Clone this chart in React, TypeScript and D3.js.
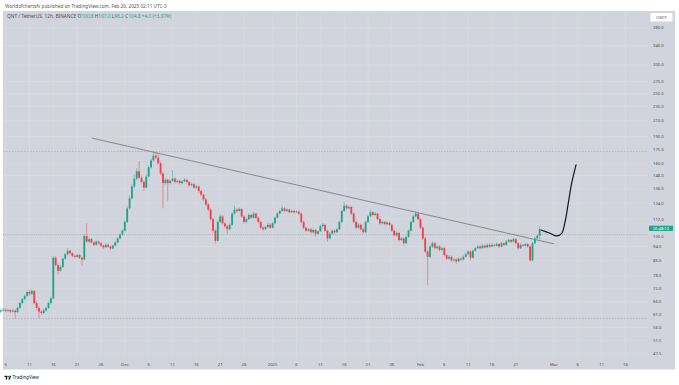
import React, { useEffect, useRef } from 'react';
import * as d3 from 'd3';

const WIDTH = 679;
const HEIGHT = 385;

// 12h candles, the first one opens 2024-11-05 00:00 UTC
const firstCandle = '2024-11-05T00:00:00Z';
const candleHours = 12;

// [open, high, low, close]
const candles: number[][] = [
  [62.0, 63.2, 61.4, 62.5], [62.5, 63.4, 62.0, 62.8], [62.8, 63.3, 61.7, 62.3], [62.3, 63.1, 61.9, 62.6],
  [62.6, 63.0, 61.3, 62.0], [62.0, 62.9, 61.6, 62.4], [62.4, 62.8, 59.3, 61.8], [61.8, 64.0, 61.5, 63.5],
  [63.5, 66.0, 63.0, 65.5], [65.5, 67.8, 65.0, 67.2], [67.2, 69.2, 66.6, 68.5], [68.5, 71.0, 68.0, 70.3],
  [70.3, 71.2, 68.8, 69.5], [69.5, 71.4, 69.0, 70.8], [70.8, 71.0, 65.0, 65.5], [65.5, 66.4, 62.8, 63.5],
  [63.5, 64.2, 59.5, 62.0], [62.0, 62.8, 60.8, 61.5], [61.5, 63.1, 61.0, 62.5], [62.5, 64.0, 62.0, 63.5],
  [63.5, 66.2, 63.0, 65.5], [65.5, 68.2, 65.0, 67.5], [67.5, 88.6, 67.0, 87.5], [87.5, 88.4, 82.8, 83.5],
  [83.5, 84.6, 78.6, 80.5], [80.5, 83.4, 79.8, 82.5], [82.5, 87.6, 82.0, 87.0], [87.0, 90.2, 86.4, 89.5],
  [89.5, 93.0, 88.8, 91.5], [91.5, 92.2, 89.2, 90.0], [90.0, 90.8, 87.8, 88.5], [88.5, 89.4, 87.2, 88.0],
  [88.0, 89.8, 87.5, 89.0], [89.0, 89.6, 86.8, 87.5], [87.5, 88.2, 83.2, 86.5], [86.5, 101.5, 86.0, 100.5],
  [100.5, 109.0, 96.4, 97.0], [97.0, 99.5, 96.2, 98.5], [98.5, 99.2, 95.8, 96.5], [96.5, 97.2, 94.2, 95.0],
  [95.0, 97.8, 94.6, 97.0], [97.0, 97.6, 95.3, 96.0], [96.0, 96.6, 93.8, 94.5], [94.5, 95.2, 92.6, 93.5],
  [93.5, 95.8, 93.0, 95.0], [95.0, 95.6, 93.3, 94.0], [94.0, 94.6, 91.8, 92.8], [92.8, 95.2, 92.3, 94.5],
  [94.5, 97.2, 94.0, 96.5], [96.5, 99.8, 96.0, 99.0], [99.0, 102.3, 98.4, 101.5], [101.5, 105.0, 100.8, 104.0],
  [104.0, 111.2, 103.4, 110.0], [110.0, 121.5, 109.2, 120.0], [120.0, 130.0, 119.0, 128.0], [128.0, 140.0, 126.8, 138.0],
  [138.0, 149.0, 136.5, 145.0], [145.0, 155.0, 143.5, 152.0], [152.0, 162.0, 144.8, 146.0], [146.0, 148.0, 140.6, 142.0],
  [142.0, 143.4, 134.0, 137.0], [137.0, 148.5, 136.2, 147.0], [147.0, 158.0, 146.0, 156.0], [156.0, 164.8, 155.0, 163.0],
  [163.0, 171.0, 161.8, 168.0], [168.0, 172.5, 164.5, 166.0], [166.0, 171.0, 158.5, 160.0], [160.0, 161.5, 148.5, 150.0],
  [150.0, 151.5, 120.0, 141.0], [141.0, 145.5, 139.5, 144.0], [144.0, 145.2, 126.0, 141.0], [141.0, 144.5, 139.8, 143.0],
  [143.0, 153.0, 141.8, 145.0], [145.0, 146.2, 140.6, 142.0], [142.0, 144.6, 141.0, 143.0], [143.0, 144.0, 139.8, 141.0],
  [141.0, 143.8, 140.2, 142.5], [142.5, 145.6, 141.8, 144.0], [144.0, 145.0, 140.8, 142.0], [142.0, 143.0, 137.8, 139.0],
  [139.0, 141.5, 138.2, 140.0], [140.0, 140.8, 135.8, 137.0], [137.0, 139.4, 136.0, 138.0], [138.0, 138.8, 132.6, 134.0],
  [134.0, 135.0, 129.8, 131.0], [131.0, 132.0, 125.8, 127.0], [127.0, 128.2, 121.8, 123.0], [123.0, 124.0, 117.6, 119.0],
  [119.0, 120.0, 110.8, 112.0], [112.0, 113.0, 102.8, 104.0], [104.0, 105.0, 95.8, 97.5], [97.5, 111.5, 97.0, 110.0],
  [110.0, 115.5, 109.2, 114.0], [114.0, 114.8, 108.0, 109.0], [109.0, 110.0, 106.0, 107.0], [107.0, 108.0, 102.0, 105.0],
  [105.0, 109.0, 104.2, 108.0], [108.0, 117.2, 107.4, 116.0], [116.0, 122.0, 115.2, 119.0], [119.0, 120.2, 116.8, 118.0],
  [118.0, 120.8, 117.2, 119.5], [119.5, 120.2, 113.0, 114.0], [114.0, 114.8, 108.8, 110.0], [110.0, 113.2, 109.2, 112.0],
  [112.0, 116.2, 111.4, 115.0], [115.0, 115.8, 112.2, 113.0], [113.0, 117.2, 112.4, 116.0], [116.0, 116.8, 112.0, 113.0],
  [113.0, 113.8, 109.0, 110.0], [110.0, 110.8, 105.2, 106.0], [106.0, 107.0, 103.8, 105.0], [105.0, 107.4, 104.4, 106.5],
  [106.5, 109.2, 105.8, 108.0], [108.0, 108.8, 105.2, 106.0], [106.0, 110.0, 105.4, 109.0], [109.0, 114.0, 108.4, 113.0],
  [113.0, 117.0, 112.4, 116.0], [116.0, 119.2, 115.4, 118.0], [118.0, 122.0, 117.2, 120.0], [120.0, 121.0, 117.0, 118.0],
  [118.0, 120.2, 117.2, 119.0], [119.0, 119.8, 116.2, 117.0], [117.0, 119.0, 116.4, 118.0], [118.0, 118.8, 116.0, 117.0],
  [117.0, 118.6, 116.4, 117.5], [117.5, 118.2, 115.0, 116.0], [116.0, 116.8, 109.0, 110.0], [110.0, 111.0, 105.0, 106.0],
  [106.0, 107.0, 103.0, 104.0], [104.0, 106.0, 103.4, 105.0], [105.0, 105.8, 102.2, 103.0], [103.0, 105.4, 102.4, 104.5],
  [104.5, 105.2, 100.0, 102.0], [102.0, 104.4, 101.4, 103.5], [103.5, 108.0, 103.0, 107.0], [107.0, 109.2, 106.2, 108.0],
  [108.0, 108.8, 103.2, 104.0], [104.0, 104.8, 97.0, 99.0], [99.0, 103.0, 98.4, 102.0], [102.0, 105.0, 101.4, 104.0],
  [104.0, 104.8, 102.2, 103.0], [103.0, 106.0, 102.4, 105.0], [105.0, 111.0, 104.4, 110.0], [110.0, 119.0, 109.4, 118.0],
  [118.0, 125.0, 117.2, 122.0], [122.0, 123.0, 119.0, 120.0], [120.0, 122.4, 119.2, 121.0], [121.0, 121.8, 115.0, 116.0],
  [116.0, 117.0, 109.0, 110.0], [110.0, 111.0, 105.2, 106.0], [106.0, 109.0, 105.4, 108.0], [108.0, 108.8, 104.2, 105.0],
  [105.0, 106.0, 102.0, 103.0], [103.0, 111.0, 102.4, 110.0], [110.0, 115.0, 109.2, 114.0], [114.0, 119.0, 113.2, 117.0],
  [117.0, 117.8, 114.0, 115.0], [115.0, 117.2, 114.2, 116.0], [116.0, 116.8, 111.0, 112.0], [112.0, 113.0, 108.2, 109.0],
  [109.0, 111.0, 108.4, 110.0], [110.0, 110.8, 107.6, 108.5], [108.5, 110.6, 107.8, 109.5], [109.5, 110.2, 107.2, 108.0],
  [108.0, 108.8, 103.0, 104.0], [104.0, 105.0, 100.2, 101.0], [101.0, 103.6, 100.2, 102.5], [102.5, 103.2, 97.0, 98.0],
  [98.0, 100.2, 97.2, 99.0], [99.0, 99.8, 95.0, 96.0], [96.0, 101.0, 95.4, 100.0], [100.0, 105.0, 99.4, 104.0],
  [104.0, 111.0, 103.4, 110.0], [110.0, 115.0, 109.2, 114.0], [114.0, 118.0, 113.2, 116.0], [116.0, 117.0, 111.0, 112.0],
  [112.0, 113.0, 105.0, 106.0], [106.0, 107.0, 98.0, 99.0], [99.0, 100.0, 90.0, 91.0], [91.0, 92.0, 73.5, 88.0],
  [88.0, 95.0, 87.2, 94.0], [94.0, 97.2, 93.2, 96.0], [96.0, 96.8, 92.2, 93.0], [93.0, 95.0, 92.4, 94.0],
  [94.0, 94.8, 91.2, 92.0], [92.0, 94.0, 91.4, 93.0], [93.0, 93.8, 88.2, 89.0], [89.0, 89.8, 86.2, 87.0],
  [87.0, 89.0, 86.4, 88.0], [88.0, 88.8, 85.2, 86.0], [86.0, 87.4, 85.4, 86.5], [86.5, 87.2, 84.0, 85.5],
  [85.5, 87.8, 85.0, 87.0], [87.0, 87.8, 85.8, 86.5], [86.5, 88.8, 86.0, 88.0], [88.0, 90.4, 87.4, 89.5],
  [89.5, 92.0, 89.0, 91.0], [91.0, 91.8, 86.0, 87.5], [87.5, 92.2, 87.0, 91.5], [91.5, 93.8, 91.0, 93.0],
  [93.0, 94.8, 92.4, 94.0], [94.0, 94.8, 92.2, 93.0], [93.0, 95.4, 92.6, 94.5], [94.5, 95.2, 92.8, 93.5],
  [93.5, 95.8, 93.0, 95.0], [95.0, 95.8, 93.2, 94.0], [94.0, 95.8, 93.6, 95.0], [95.0, 95.6, 93.8, 94.5],
  [94.5, 96.4, 94.0, 95.5], [95.5, 96.0, 93.2, 94.0], [94.0, 96.8, 93.6, 96.0], [96.0, 96.6, 94.2, 95.0],
  [95.0, 97.8, 94.6, 97.0], [97.0, 98.8, 96.4, 98.0], [98.0, 98.6, 96.2, 97.0], [97.0, 99.4, 96.6, 98.5],
  [98.5, 99.0, 95.2, 96.0], [96.0, 96.6, 92.0, 93.0], [93.0, 95.8, 92.6, 95.0], [95.0, 95.6, 93.8, 94.5],
  [94.5, 96.4, 94.0, 95.5], [95.5, 96.0, 93.2, 94.0], [94.0, 94.6, 85.5, 86.0], [86.0, 97.0, 85.6, 96.0],
  [96.0, 100.0, 95.4, 99.0], [99.0, 101.5, 98.4, 100.8], [100.8, 107.0, 98.2, 104.8],
];

const priceTicks = [380, 340, 300, 270, 250, 230, 210, 190, 175, 160, 148, 136, 124, 112, 100, 94, 86, 78, 72, 66, 61, 56, 51.5, 47.5];

const dateTicks: [string, string][] = [
  ['2024-11-06', '6'], ['2024-11-11', '11'], ['2024-11-16', '16'], ['2024-11-21', '21'], ['2024-11-26', '26'],
  ['2024-12-01', 'Dec'], ['2024-12-06', '6'], ['2024-12-11', '11'], ['2024-12-16', '16'], ['2024-12-21', '21'],
  ['2024-12-26', '26'], ['2025-01-01', '2025'], ['2025-01-06', '6'], ['2025-01-11', '11'], ['2025-01-16', '16'],
  ['2025-01-21', '21'], ['2025-01-26', '26'], ['2025-02-01', 'Feb'], ['2025-02-06', '6'], ['2025-02-11', '11'],
  ['2025-02-16', '16'], ['2025-02-21', '21'], ['2025-03-01', 'Mar'], ['2025-03-06', '6'], ['2025-03-11', '11'],
  ['2025-03-16', '16'],
];

// drawn objects
const trendLine: [string, number][] = [['2024-11-24T03:00:00Z', 188], ['2025-03-01T00:00:00Z', 95.6]];
const projection: [string, number][] = [
  ['2025-02-26T07:00:00Z', 104.5], ['2025-02-28T04:00:00Z', 102.3], ['2025-03-01T14:00:00Z', 100.6],
  ['2025-03-02T15:00:00Z', 102.3], ['2025-03-03T08:00:00Z', 110.2], ['2025-03-04T00:00:00Z', 124.0],
  ['2025-03-04T17:00:00Z', 140.9], ['2025-03-05T15:00:00Z', 158.4],
];
const rangeLevels = [172.5, 59.3];
const refLevel = 101.4;

const GREEN = '#1fa38a';
const RED = '#ef3f4c';
const BG = '#d1d4dc';
const GRID = '#d9dbe2';
const TEXT = '#4a4d55';
const FONT = '"Noto Sans", "Liberation Sans", sans-serif';

const App = () => {
  const svgRef = useRef(null);

  useEffect(() => {
    const svg = d3.select(svgRef.current);
    svg.selectAll('*').remove();

    const x = d3.scaleUtc()
      .domain([new Date('2024-11-06T00:00:00Z'), new Date('2025-03-16T00:00:00Z')])
      .range([5.6, 625.5]);
    const y = d3.scaleLog().domain([47.5, 380]).range([353.3, 28]);

    const plot = { left: 3, right: 648, top: 11, bottom: 358 };

    svg.append('rect').attr('width', WIDTH).attr('height', HEIGHT).attr('fill', '#ffffff');
    svg.append('rect')
      .attr('x', 3).attr('y', 11).attr('width', 672).attr('height', 358.5)
      .attr('fill', BG);

    // grid
    const grid = svg.append('g');
    grid.selectAll('line.v').data(dateTicks).join('line')
      .attr('x1', d => x(new Date(d[0]))).attr('x2', d => x(new Date(d[0])))
      .attr('y1', plot.top).attr('y2', plot.bottom)
      .attr('stroke', GRID).attr('stroke-width', 0.6);
    grid.selectAll('line.h').data(priceTicks).join('line')
      .attr('x1', plot.left).attr('x2', plot.right)
      .attr('y1', d => y(d)).attr('y2', d => y(d))
      .attr('stroke', GRID).attr('stroke-width', 0.6);

    // header
    svg.append('text')
      .attr('x', 5).attr('y', 7.5)
      .attr('font-family', FONT).attr('font-size', 4.7).attr('fill', '#555')
      .text('Worldofchartsfx published on TradingView.com, Feb 26, 2025 02:11 UTC-3');

    const last = candles[candles.length - 1];
    const legend = svg.append('text')
      .attr('x', 7).attr('y', 18)
      .attr('font-family', FONT).attr('font-size', 4.8).attr('fill', TEXT);
    legend.append('tspan').text('QNT / TetherUS, 12h, BINANCE  ');
    const ohlc: [string, number][] = [['O', last[0]], ['H', last[1]], ['L', last[2]], ['C', last[3]]];
    ohlc.forEach(([k, v]) => {
      legend.append('tspan').text(k);
      legend.append('tspan').attr('fill', GREEN).text(d3.format('.1f')(v) + ' ');
    });
    const change = last[3] - last[0];
    legend.append('tspan').attr('fill', GREEN)
      .text(`+${d3.format('.1f')(change)} (+${d3.format('.2f')((change / last[0]) * 100)}%)`);

    // dashed range levels and reference
    svg.selectAll('line.lvl').data(rangeLevels).join('line')
      .attr('x1', plot.left).attr('x2', plot.right)
      .attr('y1', d => y(d)).attr('y2', d => y(d))
      .attr('stroke', '#9a9ca3').attr('stroke-width', 0.6).attr('stroke-dasharray', '1.5,1.5');
    svg.append('line')
      .attr('x1', plot.left).attr('x2', plot.right)
      .attr('y1', y(refLevel)).attr('y2', y(refLevel))
      .attr('stroke', '#9a9ca3').attr('stroke-width', 0.6).attr('stroke-dasharray', '1,1.2');

    // candles
    const t0 = new Date(firstCandle).getTime();
    const step = candleHours * 3600 * 1000;
    const bodyW = 1.8;
    const cg = svg.append('g');
    candles.forEach((c, i) => {
      const cx = x(new Date(t0 + i * step));
      const [o, h, l, cl] = c;
      const col = cl >= o ? GREEN : RED;
      cg.append('line')
        .attr('x1', cx).attr('x2', cx)
        .attr('y1', y(h)).attr('y2', y(l))
        .attr('stroke', col).attr('stroke-width', 0.6).attr('stroke-opacity', 0.8);
      const top = y(Math.max(o, cl));
      const bot = y(Math.min(o, cl));
      cg.append('rect')
        .attr('x', cx - bodyW / 2).attr('y', top)
        .attr('width', bodyW).attr('height', Math.max(0.6, bot - top))
        .attr('fill', col);
    });

    // trend line and projected path
    svg.append('line')
      .attr('x1', x(new Date(trendLine[0][0]))).attr('y1', y(trendLine[0][1]))
      .attr('x2', x(new Date(trendLine[1][0]))).attr('y2', y(trendLine[1][1]))
      .attr('stroke', '#7d7f86').attr('stroke-width', 0.9);

    const path = d3.line<[string, number]>()
      .x(d => x(new Date(d[0])))
      .y(d => y(d[1]))
      .curve(d3.curveCatmullRom.alpha(0.5));
    svg.append('path')
      .attr('d', path(projection))
      .attr('fill', 'none').attr('stroke', '#131722').attr('stroke-width', 1.2)
      .attr('stroke-linecap', 'round');

    // price axis
    svg.append('g').selectAll('text').data(priceTicks).join('text')
      .attr('x', 653).attr('y', d => y(d)).attr('dy', '0.35em')
      .attr('font-family', FONT).attr('font-size', 4.2).attr('fill', TEXT)
      .text(d => d3.format('.1f')(d));

    // currency box
    svg.append('rect')
      .attr('x', 650.5).attr('y', 13).attr('width', 22).attr('height', 8.5).attr('rx', 1)
      .attr('fill', '#ffffff');
    svg.append('text')
      .attr('x', 661.5).attr('y', 17.3).attr('dy', '0.35em').attr('text-anchor', 'middle')
      .attr('font-family', FONT).attr('font-size', 4.2).attr('fill', TEXT)
      .text('USDT');

    // last price label
    const ly = y(last[3]) - 1.2;
    svg.append('rect')
      .attr('x', 649).attr('y', ly - 2.6).attr('width', 24).attr('height', 5.2)
      .attr('fill', GREEN);
    svg.append('text')
      .attr('x', 661).attr('y', ly).attr('dy', '0.35em').attr('text-anchor', 'middle')
      .attr('font-family', FONT).attr('font-size', 4).attr('fill', '#ffffff')
      .text('06:48:10');

    // time axis
    svg.append('g').selectAll('text').data(dateTicks).join('text')
      .attr('x', d => x(new Date(d[0]))).attr('y', 366)
      .attr('text-anchor', 'middle')
      .attr('font-family', FONT).attr('font-size', 4.2).attr('fill', TEXT)
      .text(d => d[1]);

    // footer logo
    const logo = svg.append('g').attr('transform', 'translate(4.5,375.8)');
    logo.append('path').attr('d', 'M0,0 H2.6 V3.8 H1.3 V1.3 H0 Z').attr('fill', '#131722');
    logo.append('circle').attr('cx', 3.6).attr('cy', 0.75).attr('r', 0.75).attr('fill', '#131722');
    logo.append('path').attr('d', 'M3.8,3.8 L5.3,0 H6.8 L5.3,3.8 Z').attr('fill', '#131722');
    svg.append('text')
      .attr('x', 12.5).attr('y', 379.3)
      .attr('font-family', FONT).attr('font-size', 4.6).attr('fill', '#131722')
      .text('TradingView');
  }, []);

  return (
    <svg
      ref={svgRef}
      width={WIDTH}
      height={HEIGHT}
      viewBox={`0 0 ${WIDTH} ${HEIGHT}`}
      style={{ position: 'absolute', left: 0, top: 0, display: 'block' }}
    />
  );
};

export default App;
